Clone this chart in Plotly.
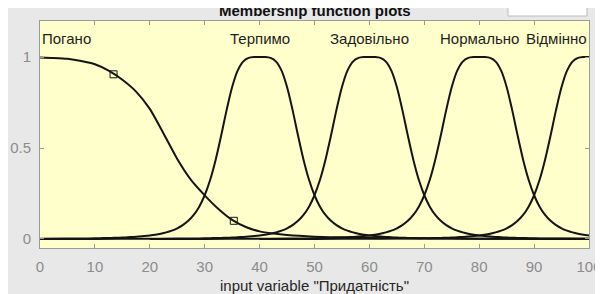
import plotly.graph_objects as go

# ---- data ----
mf_names = ["Погано", "Терпимо", "Задовільно", "Нормально", "Відмінно"]

# "Погано" curve
poor_x = [0, 2.5, 5, 7.5, 10, 12.5, 15, 17.5, 20, 22.5, 25, 27.5, 30, 32.5, 35,
          37.5, 40, 42.5, 45, 50, 55, 60, 70, 80, 90, 100]
poor_y = [0.998, 0.995, 0.99, 0.978, 0.96, 0.925, 0.875, 0.81, 0.715, 0.58,
          0.44, 0.325, 0.24, 0.165, 0.105, 0.066, 0.042, 0.03, 0.022, 0.013,
          0.009, 0.006, 0.003, 0.002, 0.0015, 0.001]

# bell shaped MFs: centres and the common profile (value vs distance from centre)
bell_centers = [40, 60, 80, 100]
bell_dist = [0, 1, 2, 3, 4, 5, 6, 7, 8, 9, 10, 11, 12, 13, 14, 15, 16, 17, 18,
             19, 20, 21, 22, 23, 24, 25, 26, 27, 28, 29, 30, 32, 35, 40, 50, 60]
bell_vals = [1.0, 0.9997, 0.995, 0.975, 0.925, 0.835, 0.7095, 0.5686, 0.4358,
             0.3253, 0.2404, 0.1777, 0.1324, 0.0997, 0.0761, 0.0588, 0.0461,
             0.0365, 0.0293, 0.0237, 0.0194, 0.016, 0.0133, 0.0112, 0.0094,
             0.008, 0.0069, 0.0059, 0.0051, 0.0045, 0.0039, 0.003, 0.0021,
             0.0012, 0.0005, 0.0002]

# selected-MF square markers on "Погано"
marker_x = [13.4, 35.3]
marker_y = [0.905, 0.1]

# label anchor positions
label_x = [0, 40, 60, 80, 100]
label_anchor = ["left", "center", "center", "center", "right"]

x_ticks = [0, 10, 20, 30, 40, 50, 60, 70, 80, 90, 100]
y_ticks = [0, 0.5, 1]
y_tick_text = ["0", "0.5", "1"]

line_color = "#141414"
font_family = "Liberation Sans, Arial, sans-serif"

# the page places the figure 8 px from the top-left corner
OFF = 8
FIG_W, FIG_H = 603 - OFF, 294 - OFF
M_L, M_R, M_T, M_B = 40 - OFF, 14, 21 - OFF, 46
PLOT_H = FIG_H - M_T - M_B
PLOT_W = FIG_W - M_L - M_R
PLOT_BOTTOM = FIG_H - M_B  # in figure pixels


def py_to_paper(page_y):
    return (PLOT_BOTTOM - (page_y - OFF)) / PLOT_H


def px_to_paper(page_x):
    return ((page_x - OFF) - M_L) / PLOT_W


fig = go.Figure()

fig.add_trace(go.Scatter(x=poor_x, y=poor_y, mode="lines",
                         line=dict(color=line_color, width=2, shape="spline",
                                   smoothing=0.6),
                         showlegend=False, hoverinfo="skip"))

for c in bell_centers:
    xs = [c - d for d in reversed(bell_dist)] + [c + d for d in bell_dist[1:]]
    ys = list(reversed(bell_vals)) + bell_vals[1:]
    pts = [(a, b) for a, b in zip(xs, ys) if 0 <= a <= 100]
    fig.add_trace(go.Scatter(x=[p[0] for p in pts], y=[p[1] for p in pts],
                             mode="lines",
                             line=dict(color=line_color, width=2, shape="spline",
                                       smoothing=0.8),
                             showlegend=False, hoverinfo="skip"))

fig.add_trace(go.Scatter(x=marker_x, y=marker_y, mode="markers",
                         marker=dict(symbol="square-open", size=7,
                                     color=line_color, line=dict(width=1)),
                         showlegend=False, hoverinfo="skip"))

for name, lx, anc in zip(mf_names, label_x, label_anchor):
    fig.add_annotation(x=lx, y=1.1, xref="x", yref="y", text=name,
                       showarrow=False, xanchor=anc, yanchor="middle",
                       font=dict(family=font_family, size=15, color="#1e1e1e"))

# title (partly cut at the top) and x-axis label
fig.add_annotation(x=0.5, y=py_to_paper(10), xref="paper", yref="paper",
                   text="<b>Membership function plots</b>", showarrow=False,
                   xanchor="center", yanchor="middle",
                   font=dict(family=font_family, size=15, color="#111111"))
fig.add_annotation(x=0.5, y=py_to_paper(285), xref="paper", yref="paper",
                   text='input variable "Придатність"', showarrow=False,
                   xanchor="center", yanchor="middle",
                   font=dict(family=font_family, size=15, color="#262626"))

# small white box top-right
fig.add_shape(type="rect", xref="paper", yref="paper",
              x0=px_to_paper(508), x1=px_to_paper(587),
              y0=py_to_paper(16), y1=py_to_paper(2),
              fillcolor="white", line=dict(color="#bcbcbc", width=1),
              layer="below")

axis_gray = "#9a9a9a"
fig.update_xaxes(range=[0, 100], tickvals=x_ticks, ticks="inside", ticklen=4,
                 tickcolor=axis_gray, showline=True, linecolor=axis_gray,
                 linewidth=1, mirror="ticks", showgrid=False, zeroline=False,
                 ticklabelstandoff=5, automargin=False,
                 tickfont=dict(family=font_family, size=15, color="#8c8c8c"))
fig.update_yaxes(range=[-0.0495, 1.198], tickvals=y_ticks, ticktext=y_tick_text,
                 ticks="inside", ticklen=4, tickcolor=axis_gray, showline=True,
                 linecolor=axis_gray, linewidth=1, mirror="ticks",
                 showgrid=False, zeroline=False, ticklabelstandoff=5,
                 automargin=False,
                 tickfont=dict(family=font_family, size=15, color="#8c8c8c"))

fig.update_layout(width=FIG_W, height=FIG_H,
                  margin=dict(l=M_L, r=M_R, t=M_T, b=M_B),
                  paper_bgcolor="#e8e8e8", plot_bgcolor="#ffffcc",
                  showlegend=False)

fig.write_html("out.html")
